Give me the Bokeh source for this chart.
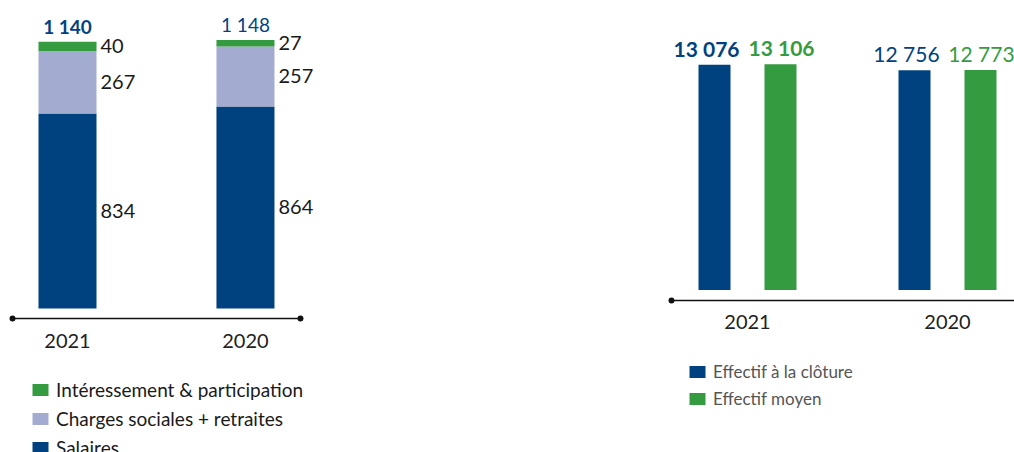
from bokeh.plotting import figure
from bokeh.models import (ColumnDataSource, Range1d, FixedTicker, LinearAxis,
                          Legend, LegendItem, LabelSet)
from bokeh.layouts import row, column
from bokeh.embed import file_html
from bokeh.resources import INLINE
from bokeh.core.properties import value
from bokeh.transform import dodge

# ---------------- data ----------------
years = ["2021", "2020"]
salaires = [834, 864]
charges = [267, 257]
interessement = [40, 27]
totaux = [1140, 1148]
legend_left = ["Intéressement & participation", "Charges sociales + retraites", "Salaires"]

effectif_cloture = [13076, 12756]
effectif_moyen = [13106, 12773]
legend_right = ["Effectif à la clôture", "Effectif moyen"]

label_styles = ["bold", "normal"]

# ---------------- styles ----------------
BLUE = "#00427f"
LAV = "#a3acd0"
GREEN = "#359b41"
FONT = "Lato"
TXT = "#1a1a1a"
AXC = "#111111"


def fmt(v):
    return f"{v:,}".replace(",", " ")


def base_fig(**kw):
    f = figure(x_axis_location=None, y_axis_location=None, align="start",
               output_backend="svg", toolbar_location=None, **kw)
    f.outline_line_color = None
    f.grid.visible = False
    return f


def year_axis(fig, standoff):
    ax = LinearAxis(ticker=FixedTicker(ticks=idx),
                    major_label_overrides={i: y for i, y in zip(idx, years)})
    ax.axis_line_color = None
    ax.major_tick_line_color = None
    ax.minor_tick_line_color = None
    ax.major_label_text_font = FONT
    ax.major_label_text_font_size = "20px"
    ax.major_label_text_color = "#222222"
    ax.major_label_standoff = standoff
    fig.add_layout(ax, "below")


def legend_fig(width, left, loc, items_spec, font_size, color):
    f = base_fig(width=width, height=92, min_border_left=left, min_border_top=0,
                 min_border_right=0, min_border_bottom=0,
                 x_range=Range1d(0, 1), y_range=Range1d(0, 1))
    items = []
    for lab, col in items_spec:
        # zero-size swatch renderer, only used to give the legend its colour
        r = f.vbar(x=[-5], top=[0], bottom=[0], width=0, fill_color=col, line_color=None)
        items.append(LegendItem(label=lab, renderers=[r]))
    f.add_layout(Legend(items=items, location=loc, orientation="vertical",
                        glyph_width=20, glyph_height=15, label_height=15, spacing=6,
                        label_standoff=6, padding=0, margin=0,
                        label_text_font=FONT, label_text_font_size=font_size,
                        label_text_color=color, border_line_color=None,
                        background_fill_alpha=0))
    return f


idx = list(range(len(years)))

# ================= left chart =================
src1 = ColumnDataSource(dict(x=idx, salaires=salaires, charges=charges,
                             interessement=interessement))
p1 = base_fig(width=340, height=360,
              min_border_left=4, min_border_right=0, min_border_top=8, min_border_bottom=38,
              x_range=Range1d(-0.354, 1.534), y_range=Range1d(-60, 1283))

rs = p1.vbar_stack(["salaires", "charges", "interessement"], x="x", width=0.326,
                   fill_color=[BLUE, LAV, GREEN], line_color=None, source=src1)

# segment labels
sx, sy, st = [], [], []
for i in idx:
    base = 0
    for series in (salaires, charges, interessement):
        v = series[i]
        sx.append(i)
        sy.append(base + v / 2)
        st.append(fmt(v))
        base += v
p1.add_layout(LabelSet(x="x", y="y", text="t", x_offset=33,
                       source=ColumnDataSource(dict(x=sx, y=sy, t=st)),
                       text_align="left", text_baseline="middle",
                       text_font=value(FONT), text_font_size="20px", text_color=TXT))

# totals
tops = [a + b + c for a, b, c in zip(salaires, charges, interessement)]
p1.add_layout(LabelSet(x="x", y="y", text="t", y_offset=8,
                       source=ColumnDataSource(dict(x=idx, y=tops, t=[fmt(t) for t in totaux],
                                                    style=label_styles)),
                       text_align="center", text_baseline="alphabetic",
                       text_font=value(FONT), text_font_size="19px", text_color=BLUE,
                       text_font_style="style"))

year_axis(p1, 5)
# baseline rule with end dots
line_y1 = -43
lx = [idx[0] - 0.309, idx[-1] + 0.309]
p1.line(x=lx, y=[line_y1, line_y1], line_color=AXC, line_width=1.5)
p1.scatter(x=lx, y=[line_y1, line_y1], size=6, fill_color=AXC, line_color=None)

# ================= right chart =================
src2 = ColumnDataSource(dict(x=idx, cloture=effectif_cloture, moyen=effectif_moyen,
                             tc=[fmt(v) for v in effectif_cloture],
                             tm=[fmt(v) for v in effectif_moyen],
                             style=label_styles))
p2 = base_fig(width=674, height=360,
              min_border_left=324, min_border_right=0, min_border_top=8, min_border_bottom=56,
              x_range=Range1d(-0.415, 1.335), y_range=Range1d(-842, 16345))

r_c = p2.vbar(x=dodge("x", -0.165, range=p2.x_range), top="cloture", width=0.16,
              fill_color=BLUE, line_color=None, source=src2)
r_m = p2.vbar(x=dodge("x", 0.165, range=p2.x_range), top="moyen", width=0.16,
              fill_color=GREEN, line_color=None, source=src2)

p2.add_layout(LabelSet(x=dodge("x", -0.165, range=p2.x_range), y="cloture", text="tc",
                       y_offset=8, x_offset=-8, source=src2,
                       text_align="center", text_baseline="alphabetic", text_font=value(FONT),
                       text_font_size="21px", text_color=BLUE, text_font_style="style"))
p2.add_layout(LabelSet(x=dodge("x", 0.165, range=p2.x_range), y="moyen", text="tm",
                       y_offset=8, x_offset=1, source=src2,
                       text_align="center", text_baseline="alphabetic", text_font=value(FONT),
                       text_font_size="21px", text_color=GREEN, text_font_style="style"))

year_axis(p2, 4)
line_y2 = -610
rx = [idx[0] - 0.38, p2.x_range.end]
p2.line(x=rx, y=[line_y2, line_y2], line_color=AXC, line_width=1.5)
p2.scatter(x=rx[:1], y=[line_y2], size=6, fill_color=AXC, line_color=None)

# ================= legends =================
lf1 = legend_fig(340, 4, (26, -7), list(zip(legend_left, [GREEN, LAV, BLUE])), "19px", TXT)
lf2 = legend_fig(674, 324, (23, 43), list(zip(legend_right, [BLUE, GREEN])), "17px", "#555555")

layout = row(column(p1, lf1, spacing=0), column(p2, lf2, spacing=0), spacing=0)
open("out.html", "w").write(file_html(layout, INLINE))
